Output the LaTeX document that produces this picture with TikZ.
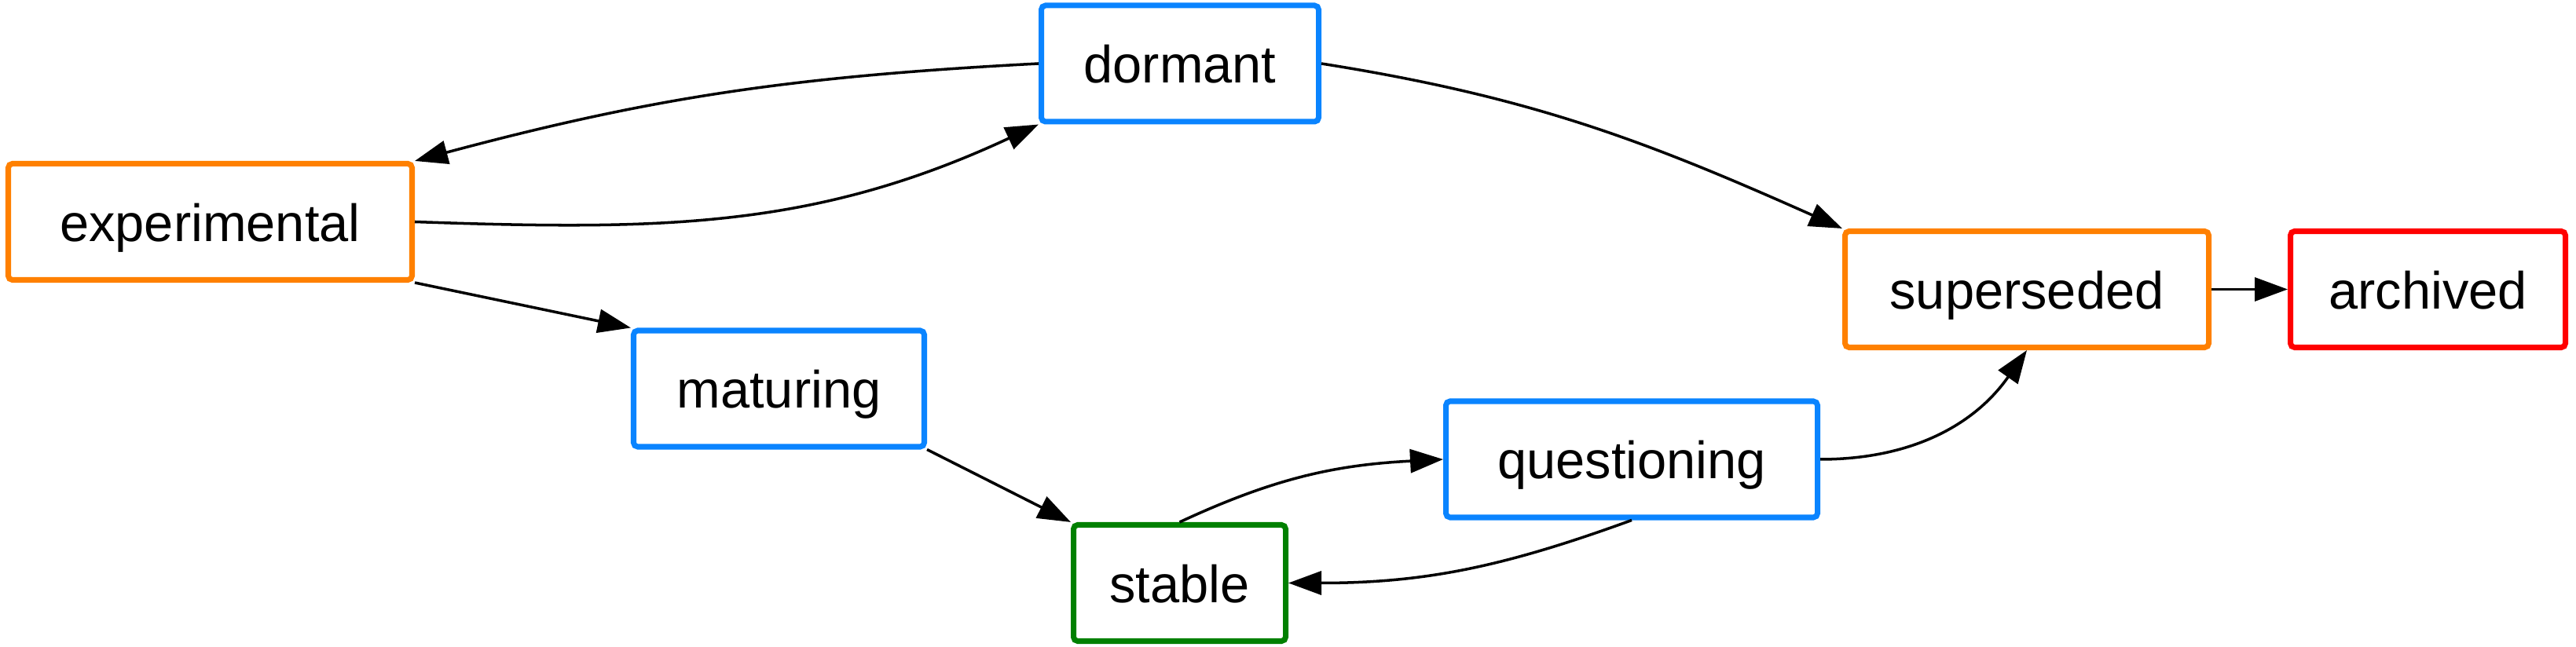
\documentclass[tikz,border=0pt]{standalone}
\usepackage{fontspec}
\setmainfont{Liberation Sans}
\usepackage{tikz}
\usepackage{xcolor}
\usetikzlibrary{arrows.meta, positioning}
\definecolor{StateOrange}{HTML}{FF8000}
\definecolor{StateBlue}{HTML}{0A84FF}
\definecolor{StateGreen}{HTML}{008000}
\definecolor{StateRed}{HTML}{FF0000}

\begin{document}
\begin{tikzpicture}[>={Triangle[length=0.42cm, width=0.3cm]}, line width=1pt, on grid, state/.style={rectangle, rounded corners=1.5pt, draw, line width=2pt, inner sep=0pt, align=center, minimum height=1.48cm, text height=14pt, text depth=0pt, font=\fontsize{19}{23}\selectfont}]

        \useasboundingbox (0,0) rectangle (32.79,-8.24);
        \node[state, draw=StateOrange, minimum width=5.14cm] (E) at (2.675,-2.825) {experimental};
        \node[state, draw=StateBlue, minimum width=3.53cm] (D) at (15.02,-0.81) {dormant};
        \node[state, draw=StateBlue, minimum width=3.70cm] (M) at (9.915,-4.95) {maturing};
        \node[state, draw=StateGreen, minimum width=2.70cm] (S) at (15.015,-7.425) {stable};
        \node[state, draw=StateBlue, minimum width=4.73cm] (Q) at (20.77,-5.85) {questioning};
        \node[state, draw=StateOrange, minimum width=4.63cm] (U) at (25.80,-3.685) {superseded};
        \node[state, draw=StateRed, minimum width=3.50cm, right=5.105cm of U] (A) {archived};
        \path[->]
        (D.west) edge[out=183, in=15] (E.north east)
        (E.east) edge[out=-2, in=205] (D.south west)
        (E.south east) edge (M.north west)
        (D.east) edge[out=-9, in=156] (U.north west)
        (M.south east) edge (S.north west)
        (S.north) edge[out=25, in=183] (Q.west)
        (Q.south) edge[out=200, in=0] (S.east)
        (Q.east) edge[out=0, in=235] (U.south)
        (U.east) edge (A.west)
        ;

    \end{tikzpicture}
\end{document}
